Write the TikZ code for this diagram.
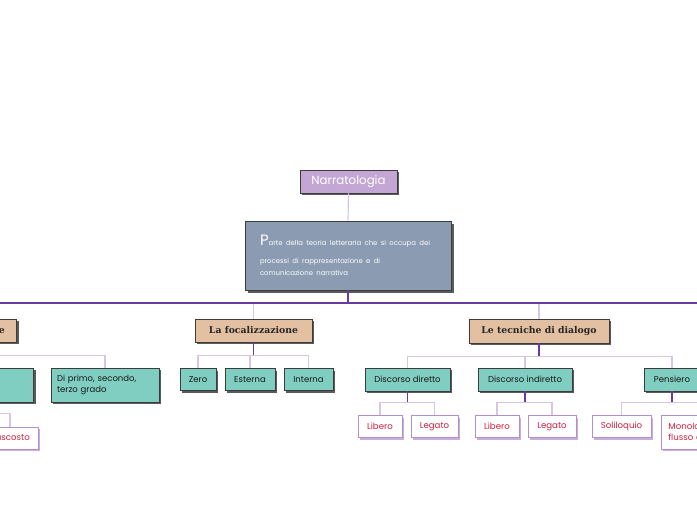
\documentclass[tikz,border=0pt]{standalone}
\usepackage{fontspec}
\setmainfont{Poppins}
\newfontfamily\slab{DejaVu Serif}
\usetikzlibrary{shadows,calc}
\definecolor{lilacfill}{HTML}{C3A6D3}
\definecolor{slatefill}{HTML}{8A9BB2}
\definecolor{tanfill}{HTML}{E3C0A1}
\definecolor{tealfill}{HTML}{7FCEC1}
\definecolor{darkline}{HTML}{6B3A9E}
\definecolor{lightline}{HTML}{D6C6E3}
\definecolor{wborder}{HTML}{B28FCA}
\definecolor{wshadow}{HTML}{C9ADDB}
\definecolor{redtext}{HTML}{D2203F}
\definecolor{boxedge}{HTML}{3C3C3C}
\definecolor{shadowgray}{HTML}{5A5A5A}
\tikzset{
  dshadow/.style={drop shadow={shadow xshift=2pt,shadow yshift=-2pt,fill=shadowgray,opacity=1}},
  rootbox/.style={draw=boxedge,line width=0.6pt,fill=lilacfill,text=white,dshadow,font=\fontsize{11.8}{13}\selectfont,minimum width=97pt,minimum height=23pt,inner sep=2pt},
  descbox/.style={draw=boxedge,line width=0.8pt,fill=slatefill,text=white,drop shadow={shadow xshift=3pt,shadow yshift=-3pt,fill=shadowgray,opacity=1},minimum width=206pt,minimum height=69pt,text width=186pt,inner xsep=10pt,align=left},
  tanbox/.style={draw=boxedge,line width=0.6pt,fill=tanfill,text=black!85,dshadow,font=\slab\bfseries\fontsize{9.3}{11}\selectfont,minimum height=23pt,inner sep=2pt},
  tealbox/.style={draw=boxedge,line width=0.6pt,fill=tealfill,text=black!90,dshadow,font=\fontsize{8.5}{10.5}\selectfont,minimum height=22pt,inner sep=2pt},
  wbox/.style={draw=wborder,line width=0.8pt,fill=white,text=redtext,drop shadow={shadow xshift=2pt,shadow yshift=-2pt,fill=wshadow,opacity=1},font=\fontsize{8.6}{10.5}\selectfont,minimum height=22pt,inner sep=2pt},
  dk/.style={draw=darkline,line width=1.2pt},
  lt/.style={draw=lightline,line width=1.2pt}
}
\begin{document}
\begin{tikzpicture}[x=1pt,y=-1pt]
\useasboundingbox (0,0) rectangle (697,520);
\clip (0,0) rectangle (697,520);

% nodes
\node[rootbox] (narr) at (348.5,181.5) {Narratologia};
\node[descbox] (desc) at (348,255.5) {\hspace*{5pt}\fontsize{6.9}{17.5}\selectfont{\fontsize{15}{17.5}\selectfont P}arte della teoria letteraria che si occupa dei\\\hspace*{5pt}processi di rappresentazione e di\\\hspace*{5pt}comunicazione narrativa};

\node[tanbox,text width=88pt,inner xsep=12pt,anchor=east,align=right] (lpar) at (17,330.5) {Il narratore};
\node[tanbox,minimum width=117pt] (focal) at (253.5,330.5) {La focalizzazione};
\node[tanbox,minimum width=140pt,minimum height=24pt] (tecn) at (539,331) {Le tecniche di dialogo};

\node[tealbox,minimum width=90pt,minimum height=34pt,anchor=east] (lteal) at (34,385) {};
\node[tealbox,minimum height=34pt,text width=96pt,inner xsep=6pt,align=left] (diprimo) at (105,385) {Di primo, secondo,\\terzo grado};

\node[tealbox,minimum width=36pt] (zero) at (198,379.5) {Zero};
\node[tealbox,minimum width=50pt] (esterna) at (250,379.5) {Esterna};
\node[tealbox,minimum width=49pt] (interna) at (308.5,379.5) {Interna};

\node[tealbox,minimum width=85pt,minimum height=23pt] (ddir) at (407.5,379.5) {Discorso diretto};
\node[tealbox,minimum width=94pt,minimum height=23pt] (dind) at (525,379.5) {Discorso indiretto};
\node[tealbox,minimum width=56pt,minimum height=23pt] (pens) at (672,379.5) {Pensiero};

\node[wbox,minimum width=56pt] (nasc) at (10,438) {nascosto};
\node[wbox,minimum width=44pt] (lib1) at (380,426.5) {Libero};
\node[wbox,minimum width=47pt] (leg1) at (434.5,426.5) {Legato};
\node[wbox,minimum width=44pt] (lib2) at (497,426.5) {Libero};
\node[wbox,minimum width=48pt] (leg2) at (552,426.5) {Legato};
\node[wbox,minimum width=59pt] (solil) at (621.5,426.5) {Soliloquio};
\node[wbox,minimum height=34pt,text width=104pt,inner xsep=7pt,align=left,anchor=west] (monol) at (661,432) {Monologo e\\flusso di coscienza};

% connectors
\draw[lt] (narr.south) -- (desc.north);

\coordinate (sp) at ($(desc.south)+(0,13)$);
\coordinate (lft) at (-80,303);
\coordinate (rgt) at (760,303);
\draw[lt] (sp) -| (lpar.north);
\draw[lt] (sp) -| (focal.north);
\draw[lt] (sp) -| (tecn.north);
\draw[dk] (lft) -- (rgt);
\draw[dk] (desc.south) -- (sp);

\coordinate (lj) at ($(lpar.south)+(0,13)$);
\draw[lt] (lj) -| (lteal.north);
\draw[lt] (lj) -| (diprimo.north);
\draw[dk] (lpar.south) -- (lj);

\coordinate (tj) at ($(lteal.south)+(0,11)$);
\draw[lt] (tj) -| (nasc.north);
\draw[dk] (lteal.south) -- (tj);

\coordinate (fj) at ($(focal.south)+(0,13)$);
\draw[lt] (fj) -| (zero.north);
\draw[lt] (fj) -| (esterna.north);
\draw[lt] (fj) -| (interna.north);
\draw[dk] (focal.south) -- (fj);

\coordinate (cj) at ($(tecn.south)+(0,13)$);
\draw[lt] (cj) -| (ddir.north);
\draw[lt] (cj) -| (dind.north);
\draw[lt] (cj) -| (pens.north);
\draw[dk] (tecn.south) -- (cj);

\coordinate (dj) at ($(ddir.south)+(0,11)$);
\draw[lt] (dj) -| (lib1.north);
\draw[lt] (dj) -| (leg1.north);
\draw[dk] (ddir.south) -- (dj);

\coordinate (ij) at ($(dind.south)+(0,11)$);
\draw[lt] (ij) -| (lib2.north);
\draw[lt] (ij) -| (leg2.north);
\draw[dk] (dind.south) -- (ij);

\coordinate (pj) at ($(pens.south)+(0,11)$);
\draw[lt] (pj) -| (solil.north);
\draw[lt] (pj) -| (monol.north);
\draw[dk] (pens.south) -- (pj);
\end{tikzpicture}
\end{document}
